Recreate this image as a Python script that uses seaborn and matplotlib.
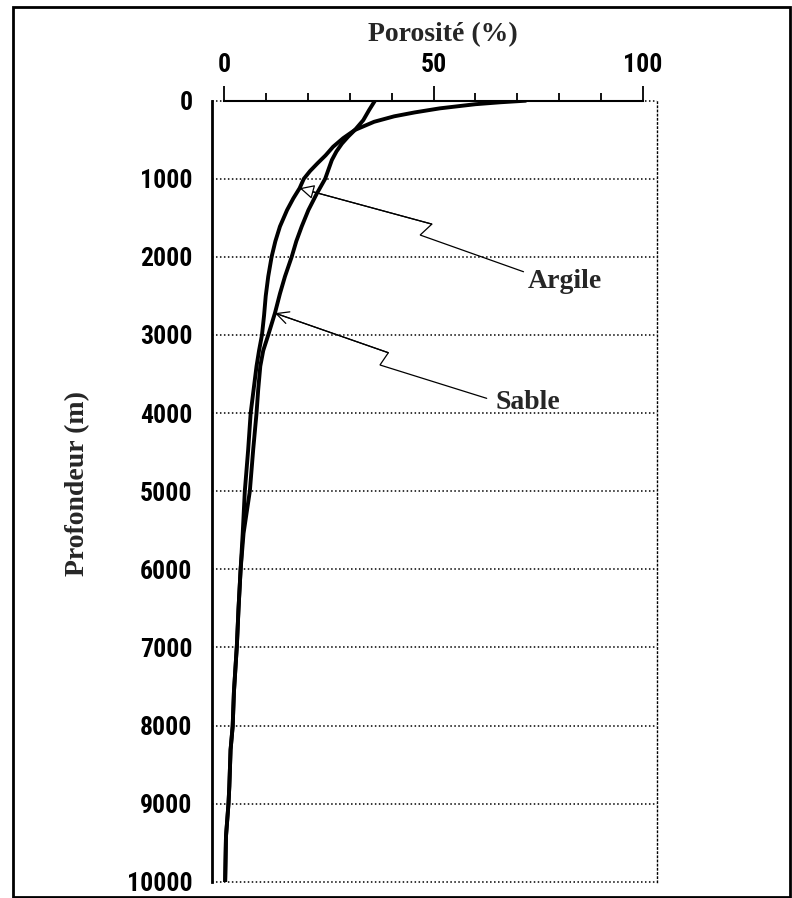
import matplotlib
matplotlib.use("Agg")
import matplotlib.pyplot as plt
from matplotlib.ticker import MultipleLocator
from matplotlib.patches import Rectangle
import pandas as pd
import seaborn as sns

# Porosity (%) versus burial depth (m) for shale and sand
prof_argile = [0, 20, 45, 98, 150, 200, 270, 375, 480, 590, 700, 800, 900, 1000,
               1120, 1250, 1400, 1610, 1800, 2000, 2250, 2500, 2750, 3000, 3200,
               3400, 3700, 4000, 4470, 5000, 5540, 6000, 6500, 6980, 7570, 8010,
               8310, 8780, 9000, 9420, 10000]
poro_argile = [72, 66, 60, 51.5, 45.5, 40.6, 35.8, 31.2, 28.4, 26.0, 24.2, 22.3, 20.5, 19.0,
               18.0, 16.5, 15.0, 13.3, 12.2, 11.3, 10.5, 9.9, 9.5, 9.0, 8.3,
               7.7, 7.0, 6.3, 5.7, 4.9, 4.4, 3.9, 3.4, 3.0, 2.3, 2.0,
               1.5, 1.2, 1.0, 0.4, 0.2]

prof_sable = [0, 120, 250, 375, 460, 550, 650, 760, 880, 1000, 1190, 1400, 1610,
              1800, 2000, 2250, 2470, 2720, 3000, 3200, 3400, 3700, 4000, 4470,
              5000, 5540, 6000, 6500, 6980, 7570, 8010, 8310, 8780, 9000, 9420, 10000]
poro_sable = [36.0, 34.6, 33.2, 31.2, 29.6, 28.1, 26.8, 25.7, 24.9, 24.1, 22.1, 20.1, 18.5,
              17.2, 16.1, 14.5, 13.3, 12.1, 10.5, 9.3, 8.6, 8.1, 7.7, 6.9,
              6.1, 4.6, 3.9, 3.4, 3.0, 2.3, 2.0, 1.5, 1.2, 1.0, 0.4, 0.2]

x_ticks_major = [0, 50, 100]
y_ticks_major = list(range(0, 10001, 1000))

# Leader lines (porosity, depth): arrow tip on the curve, then a zigzag to the label
lien_argile = [(18.0, 1120), (49.6, 1580), (46.8, 1720), (71.5, 2190)]
lien_sable = [(12.1, 2720), (39.2, 3227), (37.2, 3384), (62.7, 3811)]
pos_argile = (72.6, 2398)
pos_sable = (64.7, 3948)

df = pd.concat([
    pd.DataFrame({"Porosité": poro_argile, "Profondeur": prof_argile, "Roche": "Argile"}),
    pd.DataFrame({"Porosité": poro_sable, "Profondeur": prof_sable, "Roche": "Sable"}),
], ignore_index=True)

sns.set_style("white")
narrow = ["Roboto Condensed", "Liberation Sans Narrow", "DejaVu Sans"]
plt.rcParams["font.family"] = narrow

W, H = 792, 898
fig = plt.figure(figsize=(W / 100, H / 100), dpi=100)
left_px, right_px, top_px, bot_px = 212, 657, 100.7, 881.7
ax = fig.add_axes([left_px / W, 1 - bot_px / H, (right_px - left_px) / W, (bot_px - top_px) / H])

sns.lineplot(data=df, x="Porosité", y="Profondeur", units="Roche", estimator=None,
             sort=False, color="black", lw=2.8, ax=ax, legend=False)

ax.set_xlim(-2.94, 103.4)
ax.set_ylim(10000, 0)
ax.set_xlabel("")
ax.set_ylabel("")

# Axes: porosity on top, depth on the left
ax.xaxis.tick_top()
ax.set_xticks(x_ticks_major)
ax.xaxis.set_minor_locator(MultipleLocator(10))
ax.set_yticks(y_ticks_major)
ax.yaxis.set_minor_locator(MultipleLocator(100))

tick_font = dict(family=narrow, weight="bold", size=18.5, stretch="condensed")
ax.set_xticklabels([str(v) for v in x_ticks_major], **tick_font)
ax.set_yticklabels([str(v) for v in y_ticks_major], **tick_font)

ax.tick_params(axis="x", which="major", direction="out", length=11, width=1.3, pad=6, colors="black")
ax.tick_params(axis="x", which="minor", direction="out", length=6, width=1.3, colors="black")
ax.tick_params(axis="y", which="major", direction="out", length=10, width=1.8, pad=4, colors="black")
ax.tick_params(axis="y", which="minor", direction="out", length=6, width=1.6, colors="black")

for s in ax.spines.values():
    s.set_color("black")
ax.spines["left"].set_linewidth(2.0)
ax.spines["top"].set_linewidth(1.5)
ax.spines["top"].set_bounds(0, 100)
ax.spines["right"].set_linestyle((0, (1, 2)))
ax.spines["right"].set_linewidth(1.0)
ax.spines["bottom"].set_visible(False)

ax.yaxis.grid(True, which="major", color="black", linestyle=(0, (1, 1.6)), linewidth=1.1)
ax.xaxis.grid(False)
for gl in ax.get_ygridlines():
    gl.set_clip_on(False)

# Leader lines and labels
serif = dict(family=["Liberation Serif", "DejaVu Serif"], weight="bold", size=20)
for lien, style in ((lien_argile, "-|>"), (lien_sable, "->")):
    xs, ys = zip(*lien)
    ax.plot(xs, ys, color="black", lw=0.9, solid_joinstyle="miter")
    ax.annotate("", xy=lien[0], xytext=lien[1],
                arrowprops=dict(arrowstyle=style, color="black", lw=0.9,
                                mutation_scale=22, fc="white", shrinkA=0, shrinkB=0))
ax.text(*pos_argile, "Argile", ha="left", va="baseline", **serif)
ax.text(*pos_sable, "Sable", ha="left", va="baseline", **serif)

# Axis titles
fig.text(443 / W, 1 - 41 / H, "Porosité (%)", ha="center", va="baseline", **serif)
fig.text(78 / W, 1 - 483 / H, "Profondeur (m)", ha="center", va="center", rotation=90, **serif)

# Outer frame
fig.patches.append(Rectangle((12.7 / W, 1 - 897 / H), (790 - 12.7) / W, (897 - 7) / H,
                             transform=fig.transFigure, fill=False, ec="black", lw=2.0))

fig.savefig("out.png", dpi=100)
